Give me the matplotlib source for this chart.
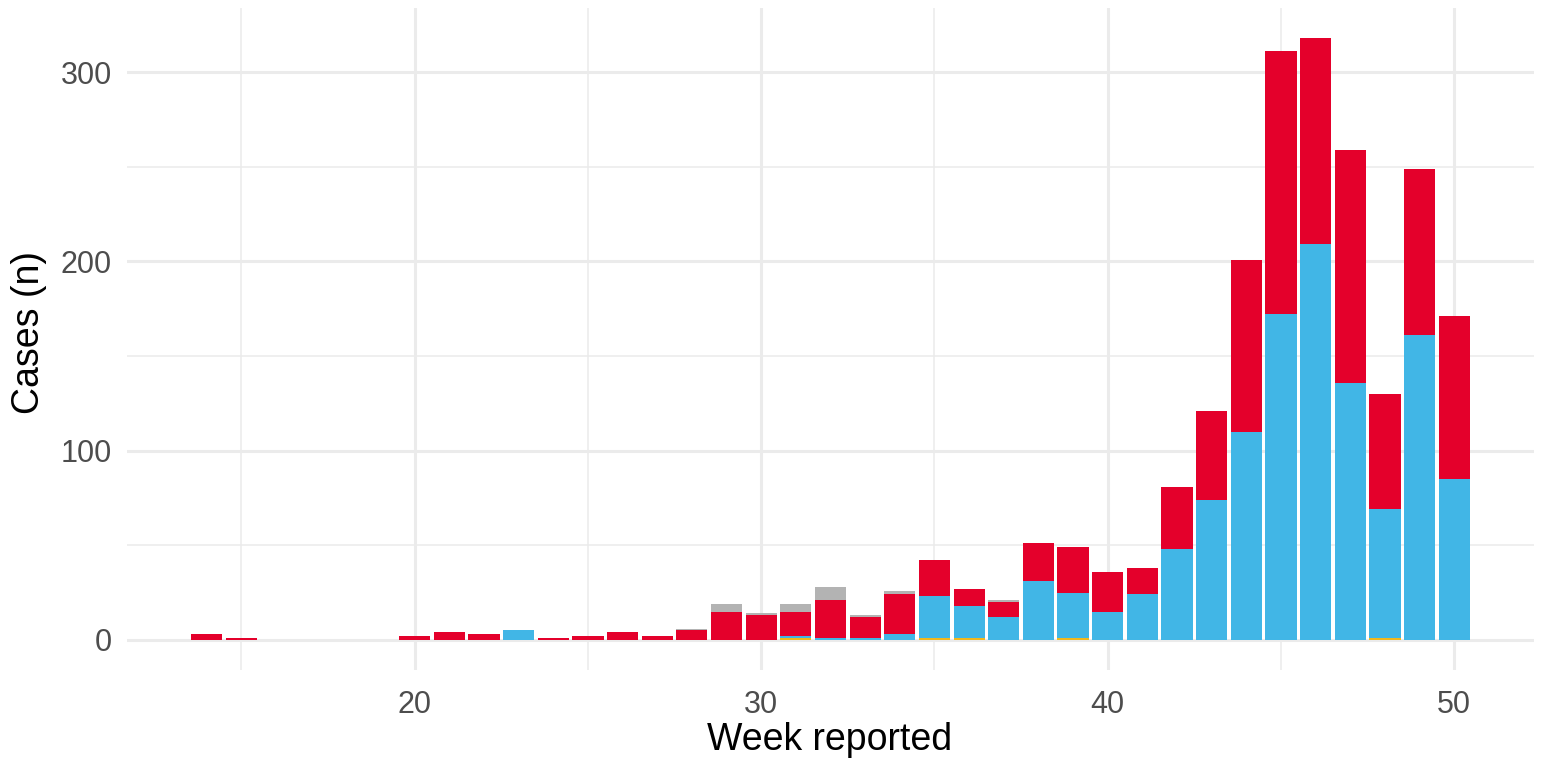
import numpy as np
import matplotlib
matplotlib.use("Agg")
import matplotlib.pyplot as plt

plt.rcParams['font.family'] = ['Liberation Sans', 'DejaVu Sans']

# weekly case counts by group, stacked bottom to top: yellow, blue, red, grey
weeks = [14, 15, 20, 21, 22, 23, 24, 25, 26, 27, 28, 29, 30, 31, 32, 33, 34,
         35, 36, 37, 38, 39, 40, 41, 42, 43, 44, 45, 46, 47, 48, 49, 50]
yellow = [0, 0, 0, 0, 0, 0, 0, 0, 0, 0, 0, 0, 0, 1, 0, 0, 0,
          1, 1, 0, 0, 1, 0, 0, 0, 0, 0, 0, 0, 0, 1, 0, 0]
blue   = [0, 0, 0, 0, 0, 5, 0, 0, 0, 0, 0, 0, 0, 1, 1, 1, 3,
          22, 17, 12, 31, 24, 15, 24, 48, 74, 110, 172, 209, 136, 68, 161, 85]
red    = [3, 1, 2, 4, 3, 0, 1, 2, 4, 2, 5, 15, 13, 13, 20, 11, 21,
          19, 9, 8, 20, 24, 21, 14, 33, 47, 91, 139, 109, 123, 61, 88, 86]
grey   = [0, 0, 0, 0, 0, 0, 0, 0, 0, 0, 1, 4, 1, 4, 7, 1, 2,
          0, 0, 1, 0, 0, 0, 0, 0, 0, 0, 0, 0, 0, 0, 0, 0]

c_yellow = "#F2B81C"
c_blue = "#41B6E6"
c_red = "#E4002B"
c_grey = "#B3B3B3"

fig = plt.figure(figsize=(15.42, 7.62), dpi=100)
ax = fig.add_axes([127/1542, 1 - 670/762, (1534 - 127)/1542, (670 - 8)/762])

w = np.array(weeks)
b0 = np.zeros(len(weeks))
for vals, col in [(yellow, c_yellow), (blue, c_blue), (red, c_red), (grey, c_grey)]:
    v = np.array(vals, dtype=float)
    ax.bar(w, v, width=0.9, bottom=b0, color=col, linewidth=0, zorder=3)
    b0 = b0 + v

ax.set_xlim(11.7, 52.3)
ax.set_ylim(-15.9, 333.9)
ax.set_xticks([20, 30, 40, 50])
ax.set_xticks([15, 25, 35, 45], minor=True)
ax.set_yticks([0, 100, 200, 300])
ax.set_yticks([50, 150, 250], minor=True)

ax.grid(True, which="major", color="#EBEBEB", linewidth=2.2, zorder=0)
ax.grid(True, which="minor", color="#EBEBEB", linewidth=1.1, zorder=0)
ax.set_axisbelow(True)
for s in ax.spines.values():
    s.set_visible(False)
ax.tick_params(which="both", length=0)
ax.tick_params(axis="y", pad=11, labelsize=22, labelcolor="#4D4D4D")
ax.tick_params(axis="x", pad=14.5, labelsize=22, labelcolor="#4D4D4D")

# axis titles placed in figure coords
fig.text(830/1542, 1 - 750/762, "Week reported", fontsize=27,
         ha="center", va="baseline")
fig.text(29/1542, 1 - 333/762, "Cases (n)", fontsize=27, rotation=90,
         ha="center", va="center")

fig.savefig("out.png", dpi=100, facecolor="white")
